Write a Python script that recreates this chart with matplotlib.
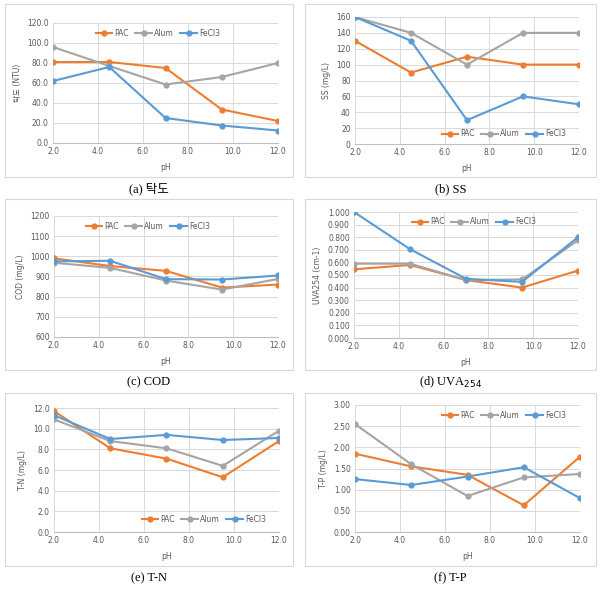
import numpy as np
import matplotlib
matplotlib.use('Agg')
from matplotlib import pyplot as plt
from matplotlib.patches import Rectangle
from matplotlib.ticker import FormatStrFormatter

plt.rcParams['font.family'] = ['DejaVu Sans', 'Noto Sans CJK KR']

W, H = 605, 589

ph = [2.0, 4.5, 7.0, 9.5, 12.0]
coagulants = ['PAC', 'Alum', 'FeCl3']
colors = ['#ED7D31', '#A5A5A5', '#5B9BD5']

turb_pac = [81, 81, 75, 33.5, 22]
turb_alum = [96, 77, 58.5, 66, 80]
turb_fecl3 = [62, 76, 25, 17.5, 12.5]

ss_pac = [130, 90, 110, 100, 100]
ss_alum = [160, 140, 100, 140, 140]
ss_fecl3 = [160, 130, 30, 60, 50]

cod_pac = [990, 952, 928, 845, 860]
cod_alum = [968, 943, 880, 835, 888]
cod_fecl3 = [975, 978, 887, 885, 905]

uva_pac = [0.545, 0.58, 0.46, 0.40, 0.535]
uva_alum = [0.59, 0.59, 0.46, 0.465, 0.775]
uva_fecl3 = [1.0, 0.705, 0.47, 0.445, 0.80]

tn_pac = [11.7, 8.1, 7.1, 5.3, 8.8]
tn_alum = [10.9, 8.8, 8.1, 6.4, 9.8]
tn_fecl3 = [11.3, 9.0, 9.4, 8.9, 9.1]

tp_pac = [1.85, 1.55, 1.35, 0.63, 1.78]
tp_alum = [2.55, 1.60, 0.85, 1.29, 1.37]
tp_fecl3 = [1.25, 1.11, 1.31, 1.53, 0.80]

# panel specs: data, y label, ylim, step, fmt, caption, axes box (px), box (px), legend center (px)
panels = [
    ([turb_pac, turb_alum, turb_fecl3], '탁도 (NTU)', (0, 120), 20, '%.1f', '(a) 탁도',
     (53, 23, 278, 143), (5, 4, 293, 177), (158, 33)),
    ([ss_pac, ss_alum, ss_fecl3], 'SS (mg/L)', (0, 160), 20, '%d', '(b) SS',
     (355, 17, 579, 144), (305, 4, 596, 177), (504, 134)),
    ([cod_pac, cod_alum, cod_fecl3], 'COD (mg/L)', (600, 1200), 100, '%d', '(c) COD',
     (54, 216, 278, 337), (5, 199, 293, 370), (148, 226)),
    ([uva_pac, uva_alum, uva_fecl3], 'UVA254 (cm-1)', (0, 1.0), 0.1, '%.3f', '(d) UVA$_{254}$',
     (354, 212, 578, 338), (305, 199, 596, 370), (474, 222)),
    ([tn_pac, tn_alum, tn_fecl3], 'T-N (mg/L)', (0, 12), 2, '%.1f', '(e) T-N',
     (54, 408, 279, 532), (5, 393, 293, 566), (204, 519)),
    ([tp_pac, tp_alum, tp_fecl3], 'T-P (mg/L)', (0, 3), 0.5, '%.2f', '(f) T-P',
     (355, 405, 580, 532), (305, 393, 596, 566), (504, 415)),
]

fig = plt.figure(figsize=(W / 100, H / 100), dpi=100)

for series, ylab, ylim, step, fmt, cap, abox, box, leg in panels:
    l, t, r, b = abox
    # panel frame
    bl, bt, br, bb = box
    fig.patches.append(Rectangle((bl / W, 1 - bb / H), (br - bl) / W, (bb - bt) / H,
                                 transform=fig.transFigure, fill=False,
                                 edgecolor='#D9D9D9', linewidth=0.8))
    ax = fig.add_axes([l / W, 1 - b / H, (r - l) / W, (b - t) / H])
    for vals, name, c in zip(series, coagulants, colors):
        ax.plot(ph, vals, color=c, linewidth=1.5, marker='o', markersize=3.5, label=name)
    ax.set_xlim(2, 12)
    ax.set_ylim(*ylim)
    ax.set_xticks(np.arange(2, 12.1, 2))
    ax.set_yticks(np.arange(ylim[0], ylim[1] + step / 2, step))
    ax.xaxis.set_major_formatter(FormatStrFormatter('%.1f'))
    ax.yaxis.set_major_formatter(FormatStrFormatter(fmt))
    ax.grid(True, color='#D9D9D9', linewidth=0.7)
    ax.set_axisbelow(True)
    for s in ['top', 'right', 'left']:
        ax.spines[s].set_visible(False)
    ax.spines['bottom'].set_color('#BFBFBF')
    ax.tick_params(length=0, labelsize=5.5, colors='#595959', pad=3)
    ax.set_ylabel(ylab, fontsize=5.5, color='#595959', labelpad=4)
    ax.set_xlabel('pH', fontsize=5.5, color='#595959', labelpad=5)
    ax.legend(loc='center', bbox_to_anchor=(leg[0] / W, 1 - leg[1] / H),
              bbox_transform=fig.transFigure, ncol=3, frameon=False,
              fontsize=5.5, labelcolor='#595959', handlelength=2.2,
              handletextpad=0.3, columnspacing=0.8, borderaxespad=0)
    fig.text((bl + br) / 2 / W, 1 - (bb + 12) / H, cap, ha='center', va='center',
             fontsize=9, family=['Liberation Serif', 'Noto Sans CJK KR'])

fig.savefig('out.png', dpi=100, facecolor='white')
